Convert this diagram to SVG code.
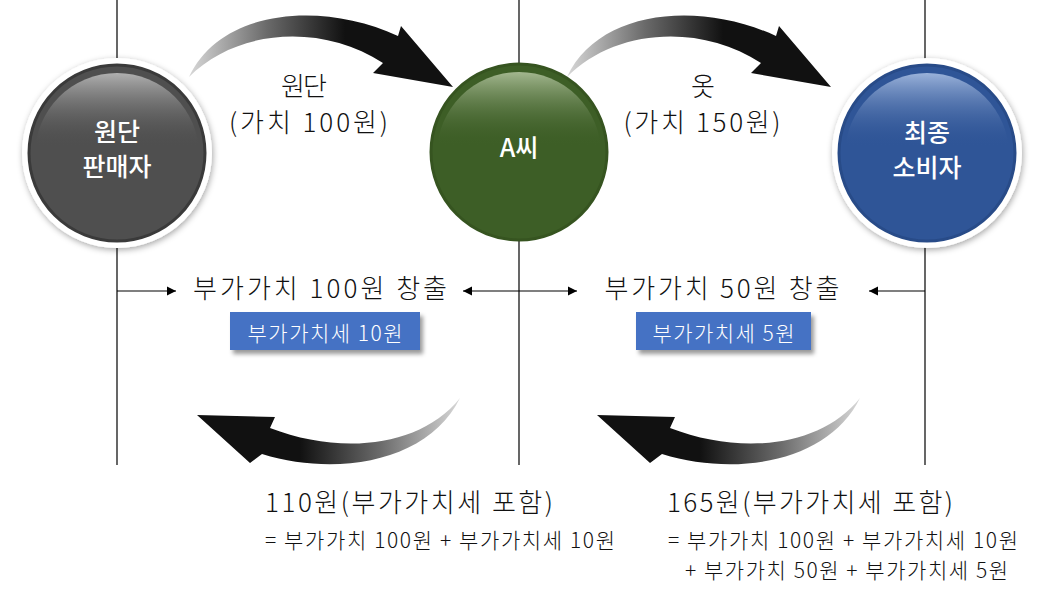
<svg xmlns="http://www.w3.org/2000/svg" width="1061" height="598" viewBox="0 0 1061 598">
<style>
  text { font-family: "Noto Sans CJK KR", "Noto Sans", sans-serif; fill: #111; font-weight: 300; }
  .lbl { font-size: 26px; text-anchor: middle; }
  .node-t { font-size: 25px; fill: #fff; text-anchor: middle; font-weight: 500; }
  .box-t { font-size: 21px; fill: #fff; text-anchor: middle; }
  .big { font-size: 26px; }
  .eq { font-size: 21px; }
  .vline { stroke: #000; stroke-width: 1.2; fill: none; }
  .hline { stroke: #000; stroke-width: 1.2; fill: none; }
  .box { fill: #4472c4; }
</style>
<defs>
  <marker id="ah" viewBox="0 0 10 10" refX="10" refY="5" markerWidth="9" markerHeight="10" markerUnits="userSpaceOnUse" orient="auto-start-reverse">
    <path d="M0,0 L10,5 L0,10 z" fill="#000"/>
  </marker>
  <filter id="ringShadow" x="-20%" y="-20%" width="140%" height="140%">
    <feDropShadow dx="1" dy="2" stdDeviation="3" flood-color="#000" flood-opacity="0.35"/>
  </filter>
  <filter id="boxShadow" x="-10%" y="-20%" width="130%" height="160%">
    <feDropShadow dx="3" dy="4" stdDeviation="2" flood-color="#000" flood-opacity="0.4"/>
  </filter>
  <linearGradient id="hlGray" x1="0" y1="0" x2="0" y2="1">
    <stop offset="0" stop-color="#b0b0b0"/>
    <stop offset="0.45" stop-color="#505050" stop-opacity="0"/>
  </linearGradient>
  <linearGradient id="hlGreen" x1="0" y1="0" x2="0" y2="1">
    <stop offset="0" stop-color="#a3b78f"/>
    <stop offset="0.45" stop-color="#3d5e26" stop-opacity="0"/>
  </linearGradient>
  <linearGradient id="hlBlue" x1="0" y1="0" x2="0" y2="1">
    <stop offset="0" stop-color="#9ab2da"/>
    <stop offset="0.45" stop-color="#2f5597" stop-opacity="0"/>
  </linearGradient>
  <linearGradient id="arrTop" gradientUnits="userSpaceOnUse" x1="189" y1="0" x2="345" y2="0">
    <stop offset="0" stop-color="#d8d8d8"/>
    <stop offset="0.5" stop-color="#6a6a6a"/>
    <stop offset="1" stop-color="#111"/>
  </linearGradient>
  <linearGradient id="arrBot" gradientUnits="userSpaceOnUse" x1="460" y1="0" x2="300" y2="0">
    <stop offset="0" stop-color="#d8d8d8"/>
    <stop offset="0.5" stop-color="#6a6a6a"/>
    <stop offset="1" stop-color="#111"/>
  </linearGradient>
  <path id="topArrow" d="M189,77 C220,10 320,0 398,36 L401,26 L453,87 L373,73 L383,63 C320,22 235,30 189,77 Z"/>
  <path id="botArrow" d="M460,398 C430,460 340,478 262,454 L250,463 L197,415 L275,417 L270,428 C340,455 420,448 460,398 Z"/>
</defs>

<rect width="1061" height="598" fill="#fff"/>

<g id="connectors">
  <line class="vline" x1="117" y1="0" x2="117" y2="465"/>
  <line class="vline" x1="519" y1="0" x2="519" y2="465"/>
  <line class="vline" x1="925" y1="0" x2="925" y2="465"/>
  <use href="#topArrow" fill="url(#arrTop)"/>
  <use href="#topArrow" fill="url(#arrTop)" transform="translate(378,0)"/>
  <use href="#botArrow" fill="url(#arrBot)"/>
  <use href="#botArrow" fill="url(#arrBot)" transform="translate(400,0)"/>
  <line class="hline" x1="117" y1="291" x2="176" y2="291" marker-end="url(#ah)"/>
  <line class="hline" x1="463" y1="291" x2="577" y2="291" marker-start="url(#ah)" marker-end="url(#ah)"/>
  <line class="hline" x1="925" y1="291" x2="869" y2="291" marker-end="url(#ah)"/>
</g>

<g id="node-seller">
  <circle cx="117" cy="153" r="95" fill="#fff" filter="url(#ringShadow)"/>
  <circle cx="117" cy="153" r="88" fill="#4f4f4f"/>
  <circle cx="117" cy="153" r="88" fill="none" stroke="#3a3a3a" stroke-width="3"/>
  <circle cx="117" cy="155" r="82" fill="url(#hlGray)"/>
  <text class="node-t" x="117" y="141">원단</text>
  <text class="node-t" x="117" y="176">판매자</text>
</g>

<g id="node-a">
  <circle cx="519" cy="152" r="88" fill="#3d5e26"/>
  <circle cx="519" cy="152" r="88" fill="none" stroke="#365420" stroke-width="3"/>
  <circle cx="519" cy="154" r="82" fill="url(#hlGreen)"/>
  <text class="node-t" x="519" y="157">A씨</text>
</g>

<g id="node-consumer">
  <circle cx="927" cy="153" r="95" fill="#fff" filter="url(#ringShadow)"/>
  <circle cx="927" cy="153" r="88" fill="#2f5597"/>
  <circle cx="927" cy="153" r="88" fill="none" stroke="#284b88" stroke-width="3"/>
  <circle cx="927" cy="155" r="82" fill="url(#hlBlue)"/>
  <text class="node-t" x="927" y="142">최종</text>
  <text class="node-t" x="927" y="177">소비자</text>
</g>

<g id="label-fabric">
  <text class="lbl" x="304" y="96" textLength="46" lengthAdjust="spacing">원단</text>
  <text class="lbl" x="308.5" y="132" textLength="159" lengthAdjust="spacing">(가치 100원)</text>
</g>
<g id="label-clothes">
  <text class="lbl" x="703" y="96">옷</text>
  <text class="lbl" x="702" y="132" textLength="157" lengthAdjust="spacing">(가치 150원)</text>
</g>

<g id="value-1">
  <text class="lbl" x="320" y="298" textLength="254" lengthAdjust="spacing">부가가치 100원 창출</text>
  <rect class="box" x="230" y="312" width="190" height="38" filter="url(#boxShadow)"/>
  <text class="box-t" x="325" y="341" textLength="155" lengthAdjust="spacing">부가가치세 10원</text>
</g>
<g id="value-2">
  <text class="lbl" x="722" y="298" textLength="235" lengthAdjust="spacing">부가가치 50원 창출</text>
  <rect class="box" x="636" y="312" width="175" height="38" filter="url(#boxShadow)"/>
  <text class="box-t" x="723.5" y="341" textLength="142" lengthAdjust="spacing">부가가치세 5원</text>
</g>

<g id="price-1">
  <text class="big" x="265" y="512" textLength="288" lengthAdjust="spacing">110원(부가가치세 포함)</text>
  <text class="eq" x="265" y="548" textLength="350" lengthAdjust="spacing">= 부가가치 100원 + 부가가치세 10원</text>
</g>
<g id="price-2">
  <text class="big" x="667" y="512" textLength="286" lengthAdjust="spacing">165원(부가가치세 포함)</text>
  <text class="eq" x="668" y="548" textLength="350" lengthAdjust="spacing">= 부가가치 100원 + 부가가치세 10원</text>
  <text class="eq" x="685" y="578" textLength="323" lengthAdjust="spacing">+ 부가가치 50원 + 부가가치세 5원</text>
</g>
</svg>
